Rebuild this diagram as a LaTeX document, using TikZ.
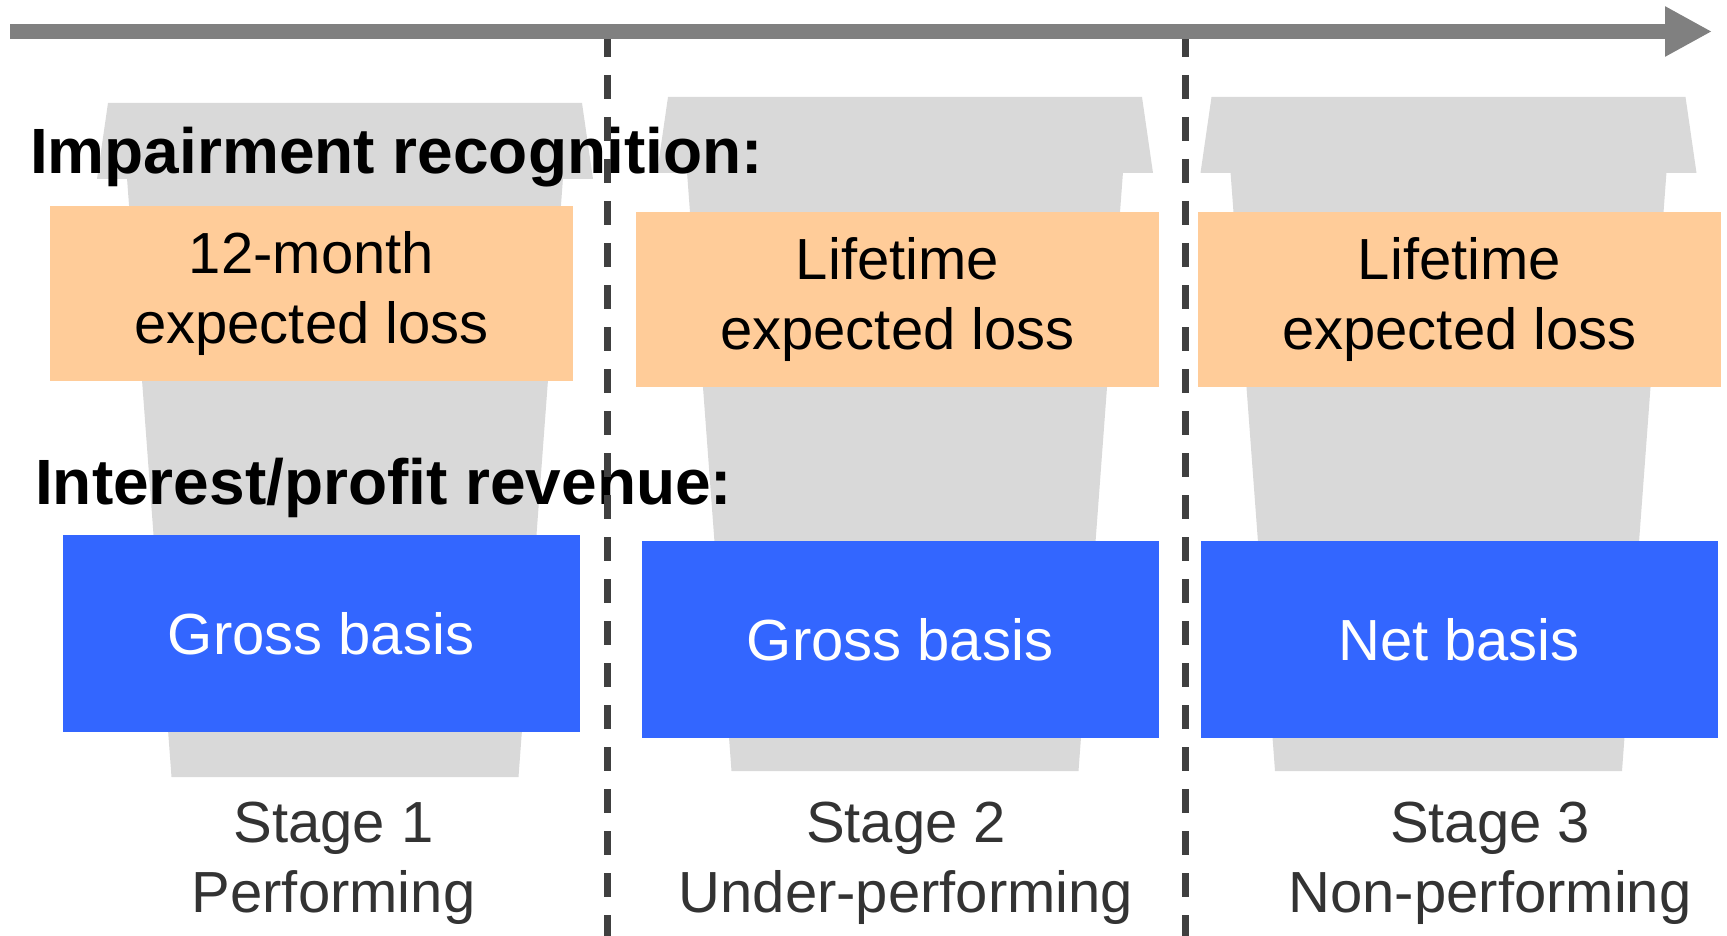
\documentclass[tikz,border=0pt]{standalone}
\usepackage{fontspec}
\setmainfont{Liberation Sans}
\usetikzlibrary{arrows.meta}

\definecolor{lossorange}{HTML}{FFCC99}
\definecolor{basisblue}{HTML}{3366FF}
\definecolor{cupgray}{HTML}{D9D9D9}
\definecolor{axisgray}{HTML}{808080}
\definecolor{divgray}{HTML}{404040}
\definecolor{stagegray}{HTML}{333333}

\newcommand{\bodyfont}{\fontsize{58pt}{70pt}\selectfont}
\newcommand{\headfont}{\fontsize{64pt}{76pt}\selectfont\bfseries}

\begin{document}
\begin{tikzpicture}[x=1pt, y=-1pt,
        every node/.style={inner sep=0pt},
        lossbox/.style={fill=lossorange, minimum width=523pt, minimum height=175pt, align=center, font=\bodyfont},
        basisbox/.style={fill=basisblue, text=white, minimum width=517pt, minimum height=197pt, font=\bodyfont},
        stagelabel/.style={text=stagegray, align=center, font=\bodyfont},
        heading/.style={anchor=base west, font=\headfont},
        divider/.style={divgray, line width=7pt, dash pattern=on 24pt off 18pt}]
        \useasboundingbox (0,0) rectangle (1727,936);

        % cups behind everything
        \foreach \cx/\ty in {345/103, 905/97, 1448.5/97} {
            \fill[cupgray] (\cx-237,\ty) -- (\cx+237,\ty) -- (\cx+248,\ty+76) -- (\cx-248,\ty+76) -- cycle;
            \fill[cupgray] (\cx-218,\ty+75) -- (\cx+218,\ty+75) -- (\cx+173.5,\ty+674) -- (\cx-173.5,\ty+674) -- cycle;
        }

        \node[lossbox] (loss1) at (311.5,293.5) {12-month\\expected loss};
        \node[lossbox] (loss2) at (897.5,299.5) {Lifetime\\expected loss};
        \node[lossbox] (loss3) at (1459.5,299.5) {Lifetime\\expected loss};

        \node[basisbox] (basis1) at (321,633.5) {Gross basis};
        \node[basisbox] (basis2) at (900,639.5) {Gross basis};
        \node[basisbox] (basis3) at (1459,639.5) {Net basis};

        \node[stagelabel] (stage1) at (333.5,863) {Stage 1\\Performing};
        \node[stagelabel] (stage2) at (906,863) {Stage 2\\Under-performing};
        \node[stagelabel] (stage3) at (1490,863) {Stage 3\\Non-performing};

        \node[heading] (himpair) at (30,174) {Impairment recognition:};
        \node[heading] (hrevenue) at (35,504) {Interest/profit revenue:};

        \coordinate (div1top) at (607,33);
        \coordinate (div1bot) at (607,936);
        \coordinate (div2top) at (1185,33);
        \coordinate (div2bot) at (1185,936);
        \draw[divider] (div1top) -- (div1bot);
        \draw[divider] (div2top) -- (div2bot);

        \coordinate (tstart) at (10,31.5);
        \coordinate (tend) at (1712,31.5);
        \draw[axisgray, line width=15pt, -{Triangle[length=47pt, width=47pt]}] (tstart) -- (tend);
\end{tikzpicture}
\end{document}
